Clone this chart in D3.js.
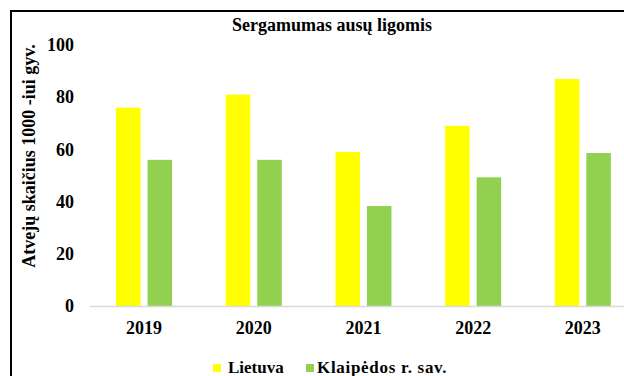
<!DOCTYPE html>
<html>
<head>
<meta charset="utf-8">
<script src="https://cdn.jsdelivr.net/npm/d3@7"></script>
<style>
  html, body { margin: 0; padding: 0; background: #fff; }
  svg { display: block; }
</style>
</head>
<body>
<svg id="chart" width="624" height="376"></svg>
<script>
// Incidence of ear diseases, cases per 1000 residents
const years = ["2019", "2020", "2021", "2022", "2023"];
const seriesNames = ["Lietuva", "Klaipėdos r. sav."];
const lietuva = [76, 81, 59, 69, 87];
const klaipeda = [56, 56, 38.3, 49.3, 58.6];
const yTicks = [0, 20, 40, 60, 80, 100];
const colors = ["#FFFF00", "#92D050"];

const FONT = "'Liberation Serif', 'Times New Roman', 'DejaVu Serif', serif";

const svg = d3.select("#chart");

function styleText(sel, size) {
  sel.style("font-family", FONT).style("font-weight", "bold")
     .style("font-size", size + "px").style("fill", "#000");
}

// outer frame (runs past the right and bottom edges)
svg.append("rect")
  .attr("x", 11).attr("y", 11)
  .attr("width", 700).attr("height", 400)
  .attr("fill", "none").attr("stroke", "#000").attr("stroke-width", 2);

const x = d3.scaleBand().domain(years).range([89.2, 637.7]).paddingInner(0).paddingOuter(0);
const xInner = d3.scaleBand().domain(seriesNames).range([0, 56]).paddingInner(0.222).paddingOuter(0);
const groupOffset = (x.bandwidth() - 56) / 2;
const y = d3.scaleLinear().domain([0, 100]).range([306, 45]);

const rows = years.map((yr, i) => ({ year: yr, values: [lietuva[i], klaipeda[i]] }));

// bars
const groups = svg.append("g").selectAll("g").data(rows).join("g")
  .attr("transform", d => `translate(${x(d.year) + groupOffset},0)`);
groups.selectAll("rect")
  .data(d => d.values.map((v, k) => ({ name: seriesNames[k], value: v, k })))
  .join("rect")
  .attr("x", d => xInner(d.name))
  .attr("width", xInner.bandwidth())
  .attr("y", d => y(d.value))
  .attr("height", d => y(0) - y(d.value))
  .attr("fill", d => colors[d.k]);

// x axis
const xAxis = svg.append("g").attr("transform", `translate(0,${y(0)})`)
  .call(d3.axisBottom(x).tickSize(0).tickPadding(15));
xAxis.select(".domain").attr("stroke", "#d9d9d9").attr("stroke-width", 1.5);
styleText(xAxis.selectAll("text"), 18);

// y axis (labels only)
const yAxis = svg.append("g").attr("transform", `translate(74,0)`)
  .call(d3.axisLeft(y).tickValues(yTicks).tickSize(0).tickPadding(0));
yAxis.select(".domain").remove();
styleText(yAxis.selectAll("text"), 18);

// axis title
styleText(svg.append("text")
  .attr("transform", "translate(35,156) rotate(-90)")
  .attr("text-anchor", "middle")
  .text("Atvejų skaičius 1000 -iui gyv."), 18);

// chart title
styleText(svg.append("text")
  .attr("x", 332).attr("y", 31)
  .attr("text-anchor", "middle")
  .text("Sergamumas ausų ligomis"), 18);

// legend
const legend = svg.append("g");
const legendItems = [
  { name: seriesNames[0], sx: 213, tx: 228, spacing: 0 },
  { name: seriesNames[1], sx: 306, tx: 317, spacing: 0.7 }
];
legendItems.forEach((it, k) => {
  legend.append("rect").attr("x", it.sx).attr("y", 364).attr("width", 8).attr("height", 8).attr("fill", colors[k]);
  styleText(legend.append("text").attr("x", it.tx).attr("y", 373)
    .style("letter-spacing", it.spacing + "px").text(it.name), 17);
});
</script>
</body>
</html>
